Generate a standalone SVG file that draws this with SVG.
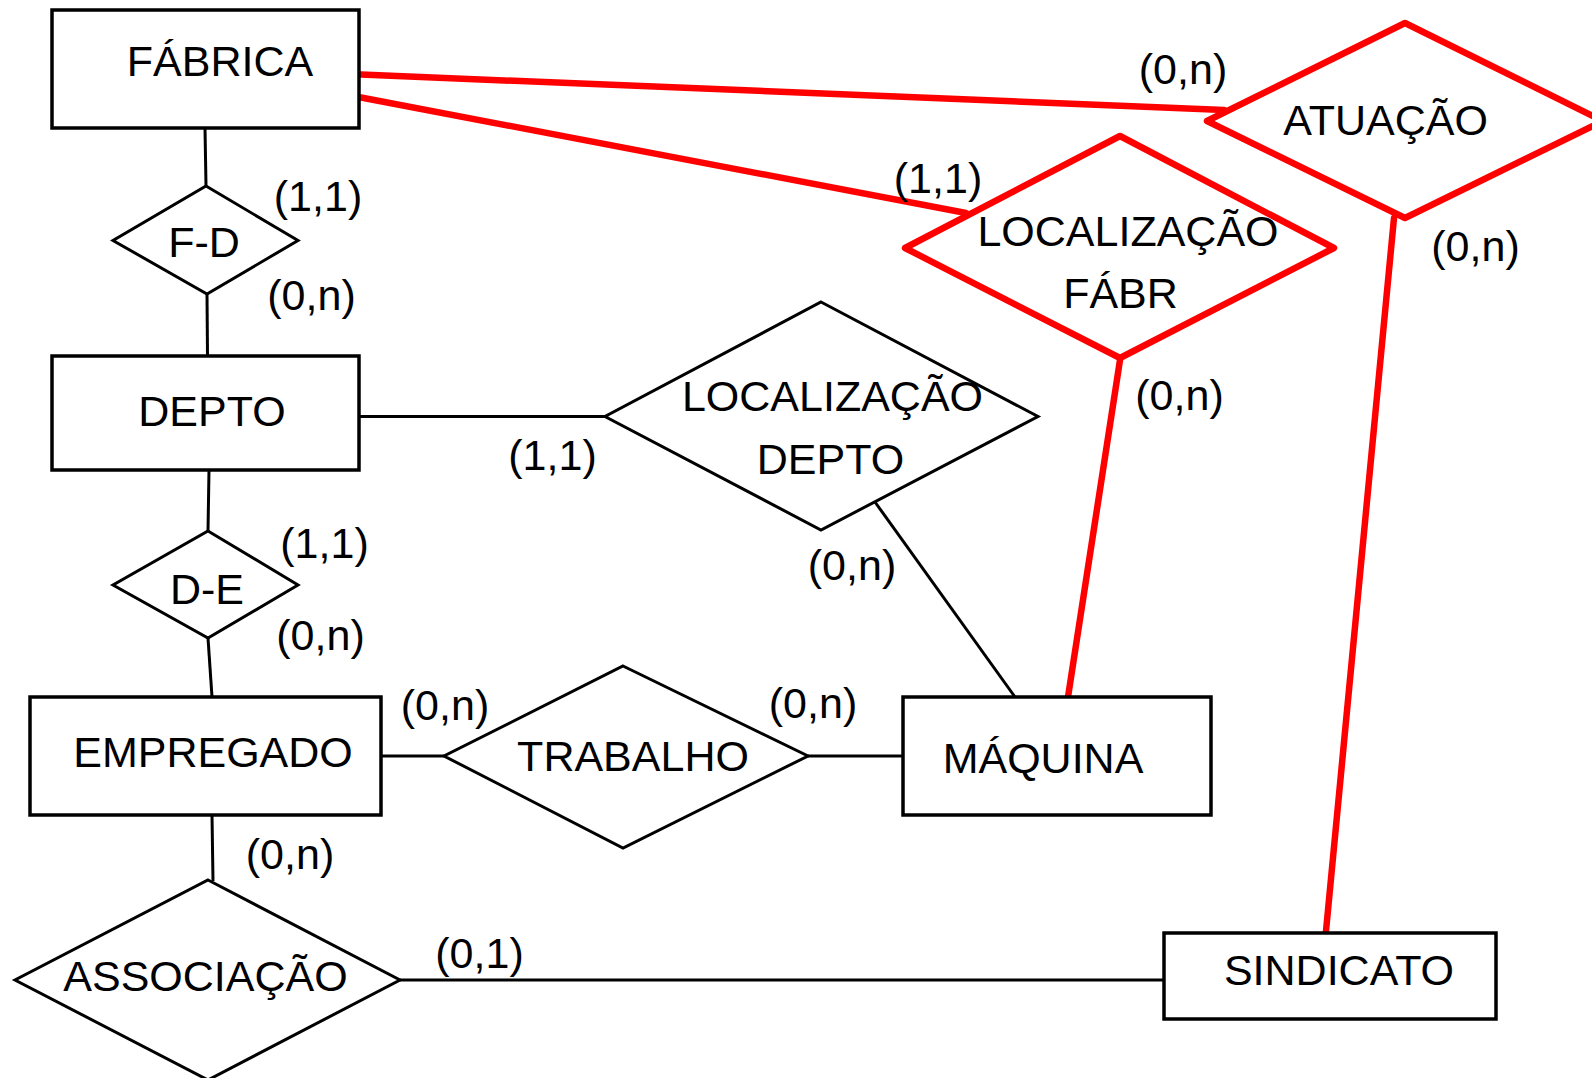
<svg xmlns="http://www.w3.org/2000/svg" width="1592" height="1078" viewBox="0 0 1592 1078">
  <style>
    .ent { fill: #fff; stroke: #000; stroke-width: 3.5; }
    .rel { fill: #fff; stroke: #000; stroke-width: 3; stroke-linejoin: miter; }
    .relr { fill: #fff; stroke: #ff0000; stroke-width: 6.5; stroke-linejoin: round; }
    .ln { stroke: #000; stroke-width: 3; fill: none; }
    .lnr { stroke: #ff0000; stroke-width: 6.5; fill: none; stroke-linecap: round; }
    text { font-family: "Liberation Sans", Arial, sans-serif; fill: #000; }
    .name { font-size: 43px; text-anchor: middle; }
    .card { font-size: 43px; text-anchor: middle; }
  </style>
  <rect width="1592" height="1078" fill="#fff"/>

  <!-- connectors -->
  <g id="connectors">
    <line class="ln" x1="205" y1="128" x2="206" y2="186"/>
    <line class="ln" x1="207" y1="294" x2="207.5" y2="356"/>
    <line class="ln" x1="209" y1="470" x2="208" y2="531"/>
    <line class="ln" x1="208" y1="638" x2="212" y2="697"/>
    <line class="ln" x1="212" y1="815" x2="213" y2="881"/>
    <line class="ln" x1="381" y1="756" x2="444" y2="756"/>
    <line class="ln" x1="808" y1="756" x2="903" y2="756"/>
    <line class="ln" x1="359" y1="416.5" x2="605" y2="416.5"/>
    <line class="ln" x1="875" y1="502" x2="1015" y2="697"/>
    <line class="ln" x1="400" y1="980" x2="1164" y2="980"/>
    <line class="lnr" x1="361" y1="74.5" x2="1224" y2="110"/>
    <line class="lnr" x1="361" y1="97.5" x2="966" y2="213"/>
    <line class="lnr" x1="1120" y1="360" x2="1068" y2="697"/>
    <line class="lnr" x1="1394" y1="218" x2="1326" y2="931"/>
  </g>

  <!-- entities -->
  <g id="fabrica">
    <rect class="ent" x="52" y="10" width="307" height="118"/>
    <text class="name" x="220" y="76">FÁBRICA</text>
  </g>
  <g id="depto">
    <rect class="ent" x="52" y="356" width="307" height="114"/>
    <text class="name" x="212" y="426">DEPTO</text>
  </g>
  <g id="empregado">
    <rect class="ent" x="30" y="697" width="351" height="118"/>
    <text class="name" x="213" y="767">EMPREGADO</text>
  </g>
  <g id="maquina">
    <rect class="ent" x="903" y="697" width="308" height="118"/>
    <text class="name" x="1043" y="773">MÁQUINA</text>
  </g>
  <g id="sindicato">
    <rect class="ent" x="1164" y="933" width="332" height="86"/>
    <text class="name" x="1339" y="985">SINDICATO</text>
  </g>

  <!-- relationships -->
  <g id="f-d">
    <polygon class="rel" points="206,186 298,240.5 207,294 113,240.5"/>
    <text class="name" x="204" y="257">F-D</text>
  </g>
  <g id="d-e">
    <polygon class="rel" points="208,531 298,585 208,638 113,585"/>
    <text class="name" x="207" y="604">D-E</text>
  </g>
  <g id="trabalho">
    <polygon class="rel" points="623,666 808,756 623,848 444,756"/>
    <text class="name" x="633" y="771">TRABALHO</text>
  </g>
  <g id="associacao">
    <polygon class="rel" points="208,880 400,980 208,1080 15,980"/>
    <text class="name" x="205.5" y="991">ASSOCIAÇÃO</text>
  </g>
  <g id="localizacao-depto">
    <polygon class="rel" points="821,302 1038,416.5 821,530 605,416.5"/>
    <text class="name" x="832.5" y="411">LOCALIZAÇÃO</text>
    <text class="name" x="830.5" y="474">DEPTO</text>
  </g>
  <g id="localizacao-fabr">
    <polygon class="relr" points="1120,136 1334,248 1120,358 905,248"/>
    <text class="name" x="1128" y="246">LOCALIZAÇÃO</text>
    <text class="name" x="1120.5" y="308">FÁBR</text>
  </g>
  <g id="atuacao">
    <polygon class="relr" points="1405,23 1603,121 1405,218 1207,121"/>
    <text class="name" x="1385.5" y="135">ATUAÇÃO</text>
  </g>

  <!-- cardinalities -->
  <g id="cardinalities">
    <text class="card" x="318" y="211">(1,1)</text>
    <text class="card" x="311.5" y="310">(0,n)</text>
    <text class="card" x="324.5" y="558">(1,1)</text>
    <text class="card" x="320.5" y="650">(0,n)</text>
    <text class="card" x="445" y="720">(0,n)</text>
    <text class="card" x="813" y="718">(0,n)</text>
    <text class="card" x="290" y="869">(0,n)</text>
    <text class="card" x="479.5" y="968">(0,1)</text>
    <text class="card" x="552.5" y="470">(1,1)</text>
    <text class="card" x="852" y="580">(0,n)</text>
    <text class="card" x="938" y="193">(1,1)</text>
    <text class="card" x="1183" y="84">(0,n)</text>
    <text class="card" x="1179.5" y="410">(0,n)</text>
    <text class="card" x="1475.5" y="261">(0,n)</text>
  </g>
</svg>
